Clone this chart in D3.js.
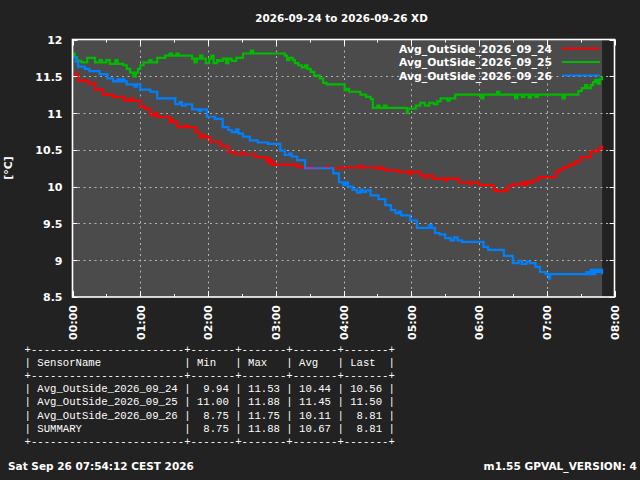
<!DOCTYPE html>
<html><head><meta charset="utf-8">
<script src="https://cdn.jsdelivr.net/npm/d3@7"></script>
<style>html,body{margin:0;padding:0;background:#222222;}svg{display:block;}</style>
</head><body>
<svg id="chart" width="640" height="480"></svg>
<script>
// ---- data (minutes since 00:00, °C) ----
const title = "2026-09-24 to 2026-09-26 XD";
const seriesNames = ["Avg_OutSide_2026_09_24", "Avg_OutSide_2026_09_25", "Avg_OutSide_2026_09_26"];
const seriesColors = ["#ff0000", "#00bb00", "#0080ff"];
const xTickLabels = ["00:00","01:00","02:00","03:00","04:00","05:00","06:00","07:00","08:00"];
const yTicks = [8.5, 9, 9.5, 10, 10.5, 11, 11.5, 12];

const red24 = [
 [0,11.53],[5,11.44],[14,11.40],[20,11.32],[27,11.25],[36,11.22],[46,11.17],[51,11.20],[53,11.17],
 [60,11.09],[64,11.06],[69,10.97],[73,11.00],[75,10.95],[86,10.88],[88,10.91],[89,10.88],[93,10.81],
 [100,10.84],[101,10.81],[109,10.74],[113,10.67],[116,10.70],[117,10.67],[122,10.61],[131,10.55],
 [138,10.47],[144,10.44],[150,10.47],[151,10.44],[162,10.40],[172,10.34],[174,10.38],[175,10.31],
 [177,10.34],[178,10.30],[199,10.27],[207,10.24],[210,10.27],[212,10.24],[217,10.25],[225,10.28],
 [226,10.25],[238,10.26],[255,10.29],[256,10.26],[270,10.24],[273,10.27],[274,10.24],[277,10.22],
 [288,10.20],[298,10.17],[300,10.20],[308,10.15],[313,10.12],[314,10.15],[319,10.11],[330,10.08],
 [331,10.11],[342,10.06],[352,10.03],[353,10.06],[360,10.02],[373,9.96],[375,9.94],[383,9.96],
 [386,10.01],[390,10.03],[397,10.05],[400,10.02],[402,10.07],[405,10.05],[408,10.09],[413,10.13],
 [419,10.13],[428,10.20],[431,10.23],[435,10.27],[440,10.30],[445,10.34],[450,10.40],[459,10.48],
 [466,10.52],[469,10.56]
];
const green25 = [
 [0,11.78],[1,11.81],[2,11.76],[4,11.71],[8,11.69],[13,11.75],[20,11.69],[24,11.72],[26,11.69],
 [30,11.72],[33,11.67],[38,11.72],[40,11.67],[45,11.65],[48,11.60],[51,11.55],[54,11.50],[56,11.55],
 [58,11.60],[60,11.65],[63,11.69],[68,11.72],[70,11.69],[75,11.75],[82,11.78],[86,11.81],[88,11.78],
 [92,11.81],[94,11.78],[100,11.78],[106,11.74],[108,11.69],[110,11.74],[113,11.78],[115,11.74],
 [118,11.68],[121,11.74],[123,11.78],[125,11.68],[128,11.72],[130,11.71],[133,11.74],[136,11.68],
 [138,11.74],[141,11.71],[145,11.75],[151,11.81],[158,11.85],[160,11.81],[170,11.81],[183,11.81],
 [188,11.78],[190,11.72],[192,11.75],[195,11.72],[197,11.68],[200,11.65],[203,11.62],[206,11.65],
 [208,11.60],[211,11.56],[214,11.51],[219,11.47],[222,11.41],[225,11.39],[241,11.31],[243,11.33],
 [245,11.29],[255,11.25],[260,11.22],[264,11.19],[266,11.07],[270,11.10],[272,11.07],[276,11.10],
 [278,11.07],[285,11.07],[296,11.00],[297,11.06],[304,11.10],[308,11.14],[312,11.10],[316,11.14],
 [320,11.12],[323,11.16],[326,11.20],[332,11.17],[334,11.20],[339,11.25],[350,11.25],[362,11.20],
 [364,11.25],[376,11.29],[378,11.25],[392,11.20],[394,11.25],[398,11.22],[400,11.25],[404,11.21],
 [406,11.25],[410,11.22],[412,11.25],[420,11.25],[434,11.20],[436,11.25],[445,11.25],[448,11.30],
 [451,11.34],[454,11.38],[456,11.34],[459,11.38],[461,11.42],[463,11.45],[465,11.40],[467,11.46],
 [469,11.50]
];
const blue26 = [
 [0,11.76],[3,11.70],[5,11.63],[11,11.60],[15,11.57],[24,11.53],[31,11.47],[36,11.43],[40,11.46],
 [42,11.43],[44,11.46],[46,11.43],[48,11.39],[55,11.36],[57,11.39],[60,11.32],[69,11.29],[75,11.20],
 [91,11.12],[95,11.15],[97,11.10],[100,11.12],[106,11.05],[112,11.03],[114,11.05],[119,10.95],
 [124,10.95],[126,10.92],[133,10.81],[138,10.77],[141,10.74],[145,10.78],[147,10.72],[151,10.68],
 [157,10.63],[164,10.60],[173,10.58],[184,10.49],[188,10.43],[192,10.45],[194,10.41],[199,10.36],
 [206,10.25],[226,10.25],[231,10.18],[236,10.06],[240,10.02],[242,10.06],[244,10.00],[248,9.96],
 [252,9.92],[255,9.96],[257,9.93],[260,9.95],[264,9.88],[271,9.83],[277,9.75],[282,9.68],[286,9.64],
 [289,9.66],[291,9.61],[299,9.54],[305,9.44],[316,9.48],[318,9.44],[321,9.37],[325,9.35],[330,9.30],
 [335,9.27],[338,9.31],[341,9.27],[345,9.25],[355,9.25],[364,9.18],[368,9.14],[382,9.06],[390,8.96],
 [395,8.99],[398,8.95],[402,8.98],[405,8.96],[410,8.91],[414,8.84],[419,8.81],[422,8.75],[423,8.81],
 [455,8.84],[457,8.81],[459,8.87],[461,8.81],[463,8.87],[465,8.84],[467,8.87],[469,8.81]
];
const seriesData = [red24, green25, blue26];

const tableHeader = ["SensorName", "Min", "Max", "Avg", "Last"];
const tableRows = [
 ["Avg_OutSide_2026_09_24", "9.94", "11.53", "10.44", "10.56"],
 ["Avg_OutSide_2026_09_25", "11.00", "11.88", "11.45", "11.50"],
 ["Avg_OutSide_2026_09_26", "8.75", "11.75", "10.11", "8.81"],
 ["SUMMARY", "8.75", "11.88", "10.67", "8.81"]
];
const footerLeft = "Sat Sep 26 07:54:12 CEST 2026";
const footerRight = "m1.55 GPVAL_VERSION: 4";
const yLabel = "[°C]";

// ---- drawing ----
const svg = d3.select("#chart");
const boldFont = "'DejaVu Sans', sans-serif";
const pLeft = 72.5, pRight = 614.5, pTop = 39.5, pBottom = 297;
const x = d3.scaleLinear().domain([0, 480]).range([pLeft, pRight]);
const y = d3.scaleLinear().domain([8.5, 12]).range([pBottom, pTop]);

svg.append("rect").attr("width", 640).attr("height", 480).attr("fill", "#222222");

const lastT = d3.max(seriesData, s => s[s.length - 1][0]);
svg.append("rect").attr("x", x(0)).attr("y", y(12)).attr("width", x(lastT) - x(0)).attr("height", y(8.5) - y(12)).attr("fill", "#4b4b4b");

// grid
const grid = svg.append("g").attr("stroke", "#b4b4b4").attr("stroke-width", 1).attr("stroke-dasharray", "2,3.5");
d3.range(1, 8).forEach(h => grid.append("line").attr("x1", Math.round(x(h*60))+0.5).attr("x2", Math.round(x(h*60))+0.5).attr("y1", y(12)).attr("y2", y(8.5)));
yTicks.slice(1, -1).forEach(v => grid.append("line").attr("x1", x(0)).attr("x2", x(480)).attr("y1", Math.round(y(v))+0.5).attr("y2", Math.round(y(v))+0.5));

// series
const line = d3.line().x(d => x(d[0])).y(d => y(d[1])).curve(d3.curveStepAfter);
seriesData.forEach((s, i) => {
  svg.append("path").datum(s).attr("d", line).attr("fill", "none").attr("stroke", seriesColors[i]).attr("stroke-width", 2.2);
});

// axes with d3
const xAxisB = d3.axisBottom(x).tickValues(d3.range(0, 481, 60)).tickSize(0).tickFormat((d, i) => xTickLabels[i]);
const gx = svg.append("g").attr("transform", `translate(0,${pBottom})`).call(xAxisB);
gx.select(".domain").remove();
gx.selectAll("text").attr("fill", "#ffffff").attr("font-family", boldFont).attr("font-weight", "bold").attr("font-size", "11px")
  .attr("text-anchor", "end").attr("transform", "rotate(-90)").attr("x", -8).attr("y", 0).attr("dy", "0.36em");

const yAxisL = d3.axisLeft(y).tickValues(yTicks).tickSize(0).tickFormat(d3.format("~g"));
const gy = svg.append("g").attr("transform", `translate(${pLeft},0)`).call(yAxisL);
gy.select(".domain").remove();
gy.selectAll("text").attr("fill", "#ffffff").attr("font-family", boldFont).attr("font-weight", "bold").attr("font-size", "11px").attr("x", -10).attr("dy", "0.36em");

// ticks (inward)
const tk = svg.append("g").attr("stroke", "#ffffff").attr("stroke-width", 1);
d3.range(0, 481, 30).forEach(m => {
  const len = (m % 60 === 0) ? 6 : 3;
  const xx = Math.round(x(m)) + 0.5;
  tk.append("line").attr("x1", xx).attr("x2", xx).attr("y1", pBottom).attr("y2", pBottom - len);
  tk.append("line").attr("x1", xx).attr("x2", xx).attr("y1", pTop).attr("y2", pTop + len);
});
yTicks.forEach(v => {
  const yy = Math.round(y(v)) + 0.5;
  tk.append("line").attr("x1", pLeft).attr("x2", pLeft + 5).attr("y1", yy).attr("y2", yy);
  tk.append("line").attr("x1", pRight).attr("x2", pRight - 5).attr("y1", yy).attr("y2", yy);
});

// frame
svg.append("rect").attr("x", pLeft).attr("y", pTop).attr("width", pRight - pLeft).attr("height", pBottom - pTop)
  .attr("fill", "none").attr("stroke", "#ffffff").attr("stroke-width", 1.6);

// title
svg.append("text").attr("x", 341.5).attr("y", 22).attr("text-anchor", "middle").attr("fill", "#ffffff")
  .attr("font-family", boldFont).attr("font-weight", "bold").attr("font-size", "10.4px").text(title);

// y label
svg.append("text").attr("transform", "translate(12,168) rotate(-90)").attr("text-anchor", "middle").attr("fill", "#ffffff")
  .attr("font-family", boldFont).attr("font-weight", "bold").attr("font-size", "11px").text(yLabel);

// legend
seriesNames.forEach((n, i) => {
  const ly = 48.5 + i * 13.5;
  svg.append("text").attr("x", 552).attr("y", ly + 4).attr("text-anchor", "end").attr("fill", "#ffffff")
    .attr("font-family", boldFont).attr("font-weight", "bold").attr("font-size", "10.8px").text(n);
  svg.append("line").attr("x1", 562).attr("x2", 600).attr("y1", ly).attr("y2", ly).attr("stroke", seriesColors[i]).attr("stroke-width", 2.2);
});

// table
const colW = [22, 5, 5, 5, 5];
const pad = (s, w, rightAlign) => rightAlign ? s.padStart(w) : s.padEnd(w);
const sep = "+" + colW.map(w => "-".repeat(w + 2)).join("+") + "+";
const fmtRow = (r, isHeader) => "| " + r.map((c, j) => pad(c, colW[j], !isHeader && j > 0)).join(" | ") + " |";
const tableLines = [sep, fmtRow(tableHeader, true), sep, ...tableRows.map(r => fmtRow(r, false)), sep];
const tg = svg.append("g").attr("font-family", "'Liberation Mono', 'DejaVu Sans Mono', monospace").attr("font-size", "10.65px").attr("fill", "#ffffff");
tableLines.forEach((t, i) => {
  tg.append("text").attr("x", 24.5).attr("y", 353 + i * 13.1).attr("xml:space", "preserve")
    .style("white-space", "pre").text(t);
});

// footer
svg.append("text").attr("x", 8).attr("y", 470).attr("fill", "#ffffff").attr("font-family", boldFont)
  .attr("font-weight", "bold").attr("font-size", "10.5px").text(footerLeft);
svg.append("text").attr("x", 637).attr("y", 470).attr("text-anchor", "end").attr("fill", "#ffffff").attr("font-family", boldFont)
  .attr("font-weight", "bold").attr("font-size", "10.6px").text(footerRight);
</script>
</body></html>
